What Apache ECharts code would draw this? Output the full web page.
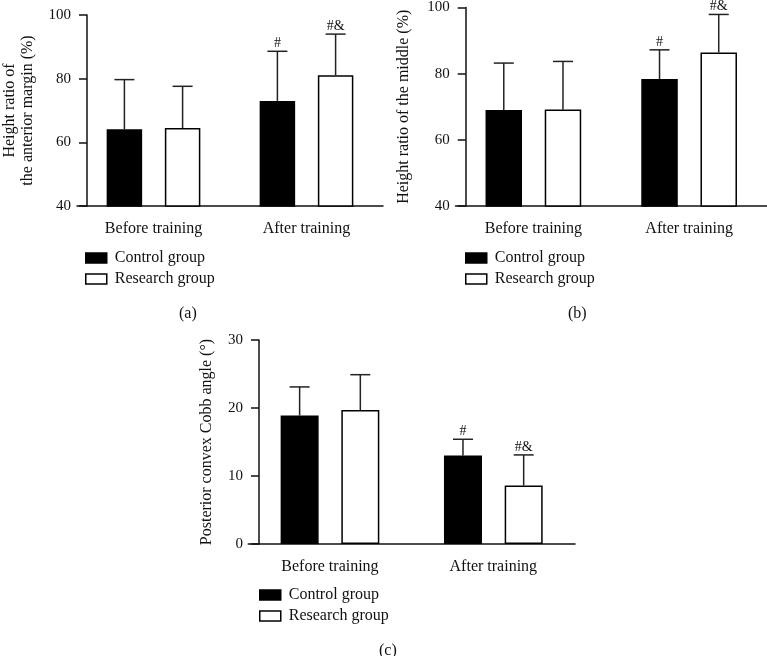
<!DOCTYPE html>
<html lang="en">
<head>
  <meta charset="UTF-8">
  <title>Height ratio and Cobb angle</title>
  <script src="https://cdn.jsdelivr.net/npm/echarts@6/dist/echarts.min.js"></script>
  <style>
    html, body { margin: 0; padding: 0; background: #fff; }
  </style>
</head>
<body>
<div id="main" style="width: 767px;height:656px;"></div>
<script type="text/javascript">
  // data
  var categories = ['Before training', 'After training'];
  var groupNames = ['Control group', 'Research group'];

  var anteriorControl = [64.1, 73.0];
  var anteriorControlSd = [15.6, 15.6];
  var anteriorResearch = [64.5, 81.1];
  var anteriorResearchSd = [13.1, 12.9];

  var middleControl = [69.0, 78.4];
  var middleControlSd = [14.2, 8.8];
  var middleResearch = [69.2, 86.4];
  var middleResearchSd = [14.5, 11.5];

  var cobbControl = [18.9, 13.0];
  var cobbControlSd = [4.2, 2.4];
  var cobbResearch = [19.7, 8.6];
  var cobbResearchSd = [5.2, 4.5];

  var controlMarks = ['', '#'];
  var researchMarks = ['', '#&'];

  var yTicksAnterior = [40, 100, 20];
  var yTicksMiddle = [40, 100, 20];
  var yTicksCobb = [0, 30, 10];

  var FONT = 'Liberation Serif';
  var GAP = 22.7;

  // grid is a bit wider than the drawn axis so the two groups sit where Prism puts them;
  // the y axis is pulled back in with a negative offset
  var panels = [
    { name: 'Height ratio of\nthe anterior margin (%)', ticks: yTicksAnterior, nameGap: 50,
      c: anteriorControl, cs: anteriorControlSd, r: anteriorResearch, rs: anteriorResearchSd,
      grid: { left: 76, top: 15, width: 307, height: 191 }, yOffset: -10, barW: 35.5,
      legend: { left: 85, top: 250 }, title: { text: '(a)', left: 174, top: 301 } },
    { name: 'Height ratio of the middle (%)', ticks: yTicksMiddle, nameGap: 53,
      c: middleControl, cs: middleControlSd, r: middleResearch, rs: middleResearchSd,
      grid: { left: 455.5, top: 7, width: 319.4, height: 199 }, yOffset: -10.2, barW: 36.5,
      legend: { left: 465, top: 250 }, title: { text: '(b)', left: 563, top: 301 } },
    { name: 'Posterior convex Cobb angle (°)', ticks: yTicksCobb, nameGap: 43,
      c: cobbControl, cs: cobbControlSd, r: cobbResearch, rs: cobbResearchSd,
      grid: { left: 248.3, top: 340, width: 326.7, height: 204 }, yOffset: -10.7, barW: 38,
      legend: { left: 259, top: 587 }, title: { text: '(c)', left: 374, top: 638 } }
  ];

  function errorBar(offset, marks) {
    return function (params, api) {
      var x = api.value(0);
      var top = api.coord([x, api.value(1) + api.value(2)]);
      var base = api.coord([x, api.value(1)]);
      var cx = top[0] + offset;
      var half = 10;
      var style = { stroke: '#222', lineWidth: 1.5 };
      return {
        type: 'group',
        children: [
          { type: 'line', shape: { x1: cx, y1: base[1], x2: cx, y2: top[1] }, style: style },
          { type: 'line', shape: { x1: cx - half, y1: top[1], x2: cx + half, y2: top[1] }, style: style },
          { type: 'text', style: { text: marks[params.dataIndex] || '', x: cx, y: top[1] - 1,
              align: 'center', verticalAlign: 'bottom', fontFamily: FONT, fontSize: 14, fill: '#111' } }
        ]
      };
    };
  }

  var grids = [], xAxes = [], yAxes = [], legends = [], titles = [], series = [];

  panels.forEach(function (p, i) {
    grids.push(p.grid);
    titles.push({ text: p.title.text, left: p.title.left, top: p.title.top,
      textStyle: { fontFamily: FONT, fontSize: 16, fontWeight: 'normal', color: '#111' } });
    xAxes.push({
      type: 'category', gridIndex: i, data: categories,
      axisLine: { onZero: false, lineStyle: { color: '#111', width: 1.5 } },
      axisTick: { alignWithLabel: true, length: 8, lineStyle: { color: '#111', width: 1.5 } },
      axisLabel: { fontFamily: FONT, fontSize: 16, color: '#111', margin: 15 }
    });
    yAxes.push({
      type: 'value', gridIndex: i, min: p.ticks[0], max: p.ticks[1], interval: p.ticks[2],
      offset: p.yOffset,
      name: p.name, nameLocation: 'middle', nameGap: p.nameGap, nameRotate: 90,
      nameTextStyle: { fontFamily: FONT, fontSize: 16, color: '#111', lineHeight: 18 },
      axisLine: { show: true, lineStyle: { color: '#111', width: 1.5 } },
      axisTick: { show: true, length: 8, lineStyle: { color: '#111', width: 1.5 } },
      axisLabel: { fontFamily: FONT, fontSize: 15, color: '#111', margin: 16 },
      splitLine: { show: false }
    });
    legends.push({
      left: p.legend.left, top: p.legend.top, orient: 'vertical', padding: 0,
      itemWidth: 21, itemHeight: 10, itemGap: 5, icon: 'rect',
      selectedMode: false,
      textStyle: { fontFamily: FONT, fontSize: 16, color: '#111', padding: [0, 0, 0, 3] },
      data: [
        { name: groupNames[0], itemStyle: { color: '#000', borderColor: '#000', borderWidth: 1.5 } },
        { name: groupNames[1], itemStyle: { color: '#fff', borderColor: '#000', borderWidth: 1.5 } }
      ]
    });
    series.push({
      name: groupNames[0], type: 'bar', xAxisIndex: i, yAxisIndex: i,
      data: p.c, barWidth: p.barW, barGap: (GAP / p.barW * 100) + '%',
      itemStyle: { color: '#000', borderColor: '#000', borderWidth: 1.5 }, silent: true
    });
    series.push({
      name: groupNames[1], type: 'bar', xAxisIndex: i, yAxisIndex: i,
      data: p.r, barWidth: p.barW,
      itemStyle: { color: '#fff', borderColor: '#000', borderWidth: 1.5 }, silent: true
    });
    series.push({
      name: 'ctrl-err-' + i, type: 'custom', xAxisIndex: i, yAxisIndex: i, z: 1,
      renderItem: errorBar(-(p.barW + GAP) / 2, controlMarks),
      data: p.c.map(function (v, k) { return [k, v, p.cs[k]]; })
    });
    series.push({
      name: 'res-err-' + i, type: 'custom', xAxisIndex: i, yAxisIndex: i, z: 1,
      renderItem: errorBar((p.barW + GAP) / 2, researchMarks),
      data: p.r.map(function (v, k) { return [k, v, p.rs[k]]; })
    });
  });

  var myChart = echarts.init(document.getElementById('main'));
  myChart.setOption({
    animation: false,
    backgroundColor: '#fff',
    title: titles,
    grid: grids,
    xAxis: xAxes,
    yAxis: yAxes,
    legend: legends,
    series: series
  });
</script>
</body>
</html>
